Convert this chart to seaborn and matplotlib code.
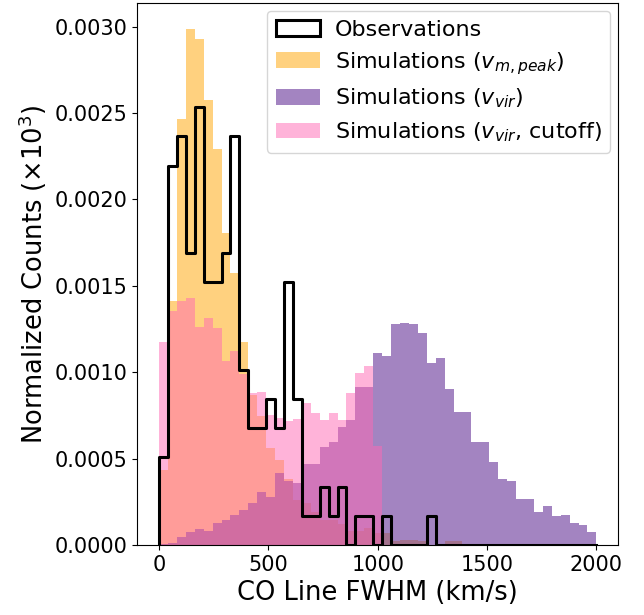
import numpy as np
import matplotlib
matplotlib.use('Agg')
import matplotlib.pyplot as plt
import seaborn as sns
from matplotlib.patches import Patch
from matplotlib.ticker import FormatStrFormatter

# 49 equal bins over 0-2000 km/s, shared by all four histograms
bin_edges = list(np.linspace(0, 2000, 50))
bin_centers = 0.5 * (np.array(bin_edges[:-1]) + np.array(bin_edges[1:]))

# observed sources per bin (normalised to a density when plotted)
obs_counts = [3, 13, 14, 10, 15, 9, 9, 10, 14, 6,
              4, 4, 5, 4, 9, 5, 1, 1, 2, 1,
              2, 0, 1, 1, 0, 1, 0, 0, 0, 0,
              1, 0, 0, 0, 0, 0, 0, 0, 0, 0,
              0, 0, 0, 0, 0, 0, 0, 0, 0]

# simulated densities read per bin
vpeak_density = [0.000434, 0.00141, 0.002465, 0.002988, 0.002929, 0.002577, 0.002292, 0.001805, 0.001574, 0.001177,
                 0.000869, 0.000747, 0.00056, 0.00049, 0.00038, 0.00026, 0.00024, 0.00019, 0.000145, 0.000145,
                 0.00012, 0.00008, 0.00008, 0.0001, 0.00007, 0.000068, 0.00002, 0.00003, 0.00003, 0.00002,
                 0.0, 0.0, 0.00002, 0.000025, 0.0, 0.0, 0.0, 0.0, 0.0, 0.0,
                 0.0, 0.0, 0.0, 0.0, 0.0, 0.0, 0.0, 0.0, 0.0]

vvir_density = [0.000006, 0.000013, 0.000048, 0.000077, 0.000093, 0.000083, 0.000129, 0.000145, 0.000174, 0.000203,
                0.000242, 0.000309, 0.000276, 0.000415, 0.00037, 0.000357, 0.00047, 0.00047, 0.000569, 0.000598,
                0.000685, 0.000724, 0.000917, 0.000917, 0.00111, 0.001095, 0.00128, 0.001284, 0.00128, 0.001226,
                0.001052, 0.001081, 0.0009, 0.000767, 0.000767, 0.000593, 0.000593, 0.000482, 0.000384, 0.000371,
                0.000266, 0.000266, 0.000189, 0.000226, 0.000168, 0.000174, 0.000129, 0.000114, 0.000075]

vvir_cut_density = [0.001172, 0.001355, 0.00141, 0.00143, 0.001264, 0.001316, 0.001255, 0.001062, 0.00112, 0.00099,
                    0.000879, 0.000888, 0.00075, 0.000734, 0.00072, 0.00073, 0.00082, 0.000764, 0.000724, 0.000764,
                    0.000724, 0.000879, 0.000994, 0.001037, 0.00057, 0.0, 0.0, 0.0, 0.0, 0.0,
                    0.0, 0.0, 0.0, 0.0, 0.0, 0.0, 0.0, 0.0, 0.0, 0.0,
                    0.0, 0.0, 0.0, 0.0, 0.0, 0.0, 0.0, 0.0, 0.0]

labels = ['Observations',
          r'Simulations ($v_{m,peak}$)',
          r'Simulations ($v_{vir}$)',
          r'Simulations ($v_{vir}$, cutoff)']
colors = ['black', 'orange', 'rebeccapurple', 'hotpink']

fig, ax = plt.subplots(figsize=(6.44, 6.15), dpi=100)
fig.subplots_adjust(left=0.213, right=0.96, top=0.995, bottom=0.114)

# simulated distributions as filled bars
for dens, col, alpha in [(vpeak_density, colors[1], 0.5),
                         (vvir_density, colors[2], 0.6),
                         (vvir_cut_density, colors[3], 0.5)]:
    sns.histplot(x=bin_centers, weights=dens, bins=bin_edges, stat='count',
                 color=col, alpha=alpha, linewidth=0, ax=ax)

# observations as a black outline
sns.histplot(x=bin_centers, weights=obs_counts, bins=bin_edges, stat='density',
             element='step', fill=False, color='black', linewidth=2.2, ax=ax)
# close the outline down to zero on the left side
line = ax.lines[-1]
lx, ly = line.get_data()
line.set_data(np.r_[lx[0], lx], np.r_[0, ly])
line.set_zorder(5)

ax.set_xticks([0, 500, 1000, 1500, 2000])
ax.yaxis.set_major_formatter(FormatStrFormatter('%.4f'))
ax.tick_params(labelsize=15)
ax.set_xlabel('CO Line FWHM (km/s)', fontsize=18.5)
ax.set_ylabel(r'Normalized Counts ($\times10^3$)', fontsize=18.5)

handles = [Patch(facecolor='white', edgecolor='black', linewidth=2.2, label=labels[0]),
           Patch(facecolor=colors[1], alpha=0.5, label=labels[1]),
           Patch(facecolor=colors[2], alpha=0.6, label=labels[2]),
           Patch(facecolor=colors[3], alpha=0.5, label=labels[3])]
ax.legend(handles=handles, loc='upper right', fontsize=16,
          borderaxespad=0.35, handletextpad=0.65, labelspacing=0.45)

fig.savefig('out.png', dpi=100)
